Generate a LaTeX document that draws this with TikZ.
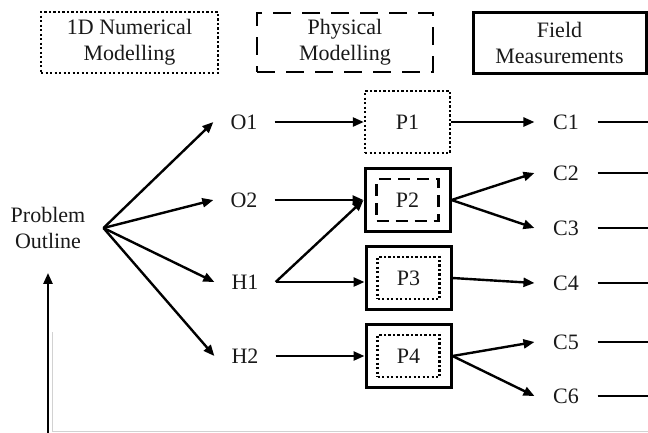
\documentclass[tikz,border=0pt]{standalone}
\usepackage{fontspec}
\setmainfont{Liberation Serif}
\usetikzlibrary{arrows.meta,calc}
\begin{document}
\begin{tikzpicture}[x=1pt,y=-1pt,
  txt/.style={font=\fontsize{22}{26}\selectfont, inner sep=0pt, align=center, text=black!90},
  lbl/.style={txt, inner xsep=17pt},
  clbl/.style={txt, inner xsep=18.5pt},
  ln/.style={line width=2.4pt},
  arr/.style={ln, -{Triangle[length=11pt,width=9pt]}},
  dotbox/.style={draw, line width=2.4pt, dash pattern=on 2.2pt off 2.3pt},
  dashbox/.style={draw, line width=2.7pt, dash pattern=on 18pt off 11pt},
  dashin/.style={draw, line width=2.7pt, dash pattern=on 12pt off 7pt},
  solidbox/.style={draw, line width=3pt},
  pout/.style={txt, solidbox, minimum width=85pt, minimum height=63pt},
  pin/.style={txt, minimum width=62pt, minimum height=42pt}]
\useasboundingbox (0,0) rectangle (648,432);
\clip (0,0) rectangle (648,432);

% header boxes
\node[txt, dotbox, minimum width=177pt, minimum height=61pt] (num) at (129.5,42.5) {1D Numerical\\Modelling};
\node[txt, dashbox, minimum width=176pt, minimum height=59pt] (phys) at (345,42.5) {Physical\\Modelling};
\node[txt, solidbox, minimum width=173pt, minimum height=61pt] (field) at (559.5,42.5) {Field\\Measurements};

% problem outline
\node[txt, inner xsep=18pt] (prob) at (48,228) {Problem\\Outline};
\coordinate (fan) at (prob.east);
\coordinate (bot) at (48,433);
\coordinate (edge) at (652,0);

% objectives / hypotheses
\node[lbl] (O1) at (244,122) {O1};
\node[lbl] (O2) at (244,200) {O2};
\node[lbl] (H1) at (245,282) {H1};
\node[lbl] (H2) at (245,356) {H2};

% physical / numerical models
\node[txt, dotbox, minimum width=85pt, minimum height=62pt] (P1) at (407.5,122) {P1};
\node[pout] (P2) at (407.5,200) {};
\node[pin, dashin] (P2i) at (P2.center) {P2};
\node[pout] (P3) at (408.5,278) {};
\node[pin, dotbox] (P3i) at (P3.center) {P3};
\node[pout] (P4) at (408.5,356) {};
\node[pin, dotbox] (P4i) at (P4.center) {P4};

% conclusions
\node[clbl] (C1) at (566,122) {C1};
\node[clbl] (C2) at (566,173) {C2};
\node[clbl] (C3) at (566,228) {C3};
\node[clbl] (C4) at (566,283) {C4};
\node[clbl] (C5) at (566,342) {C5};
\node[clbl] (C6) at (566,396) {C6};

% connectors
\draw[arr, shorten >=24pt] (bot) -- (prob.south);
\foreach \n in {O1,O2,H1,H2} \draw[arr] (fan) -- (\n.west);
\draw[arr] (O1.east) -- (O1.east -| P1.west);
\draw[arr] (O2.east) -- (P2.west);
\draw[arr] (H1.east) -- (P2.west);
\draw[arr] (H1.east) -- (H1.east -| P3.west);
\draw[arr] (H2.east) -- (H2.east -| P4.west);
\draw[arr] (P1.east) -- (C1.west);
\draw[arr] (P2.east) -- (C2.west);
\draw[arr] (P2.east) -- (C3.west);
\draw[arr] (P3.east) -- (C4.west);
\draw[arr] (P4.east) -- (C5.west);
\draw[arr] (P4.east) -- (C6.west);
\foreach \n in {C1,C2,C3,C4,C5,C6} \draw[ln] (\n.east) -- (\n.east -| edge);

% faint residual lines
\draw[gray!35, line width=0.8pt] (52.5,332) -- (52.5,431) -- (652,431);
\end{tikzpicture}
\end{document}
